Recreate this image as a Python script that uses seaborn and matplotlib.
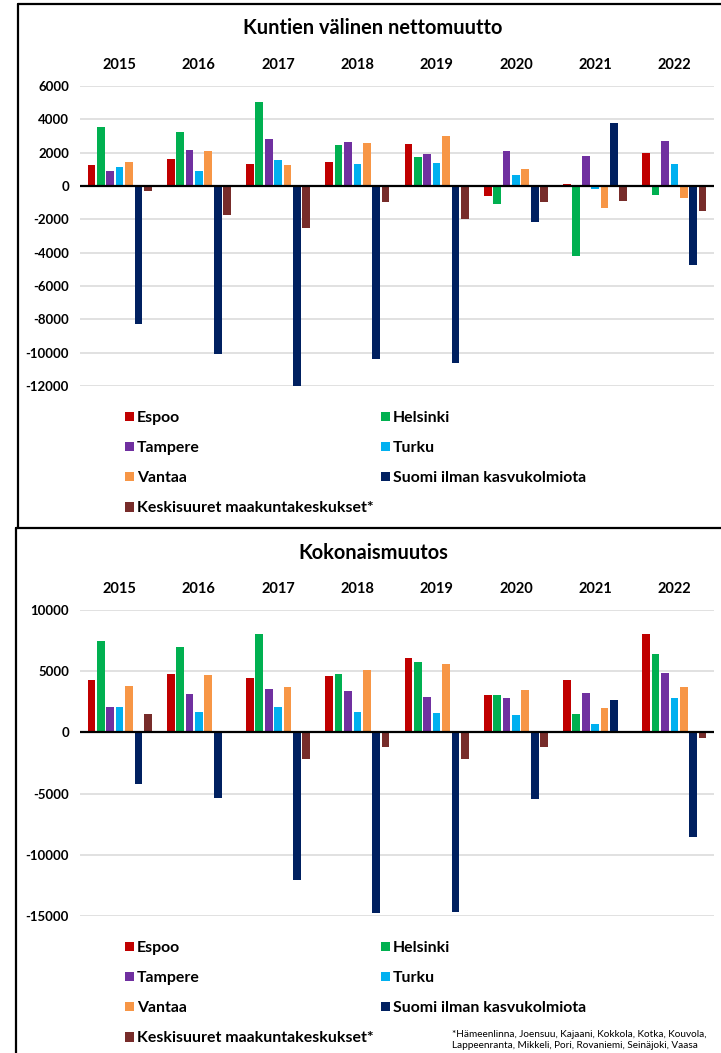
import matplotlib
matplotlib.use("Agg")
import matplotlib.pyplot as plt
from matplotlib.lines import Line2D
import pandas as pd
import seaborn as sns

# ---- data -------------------------------------------------------------
years = ["2015", "2016", "2017", "2018", "2019", "2020", "2021", "2022"]
series = ["Espoo", "Helsinki", "Tampere", "Turku", "Vantaa",
          "Suomi ilman kasvukolmiota", "Keskisuuret maakuntakeskukset*"]
colors = ["#C00000", "#00B050", "#7030A0", "#00B0F0", "#F79646",
          "#002060", "#772C2A"]

# Kuntien välinen nettomuutto
netto_espoo = [1240, 1640, 1320, 1420, 2520, -620, 100, 2000]
netto_helsinki = [3560, 3260, 5040, 2440, 1720, -1060, -4180, -560]
netto_tampere = [920, 2140, 2800, 2620, 1900, 2080, 1820, 2680]
netto_turku = [1120, 880, 1540, 1300, 1380, 660, -180, 1340]
netto_vantaa = [1420, 2080, 1280, 2580, 3020, 1020, -1320, -720]
netto_suomi = [-8280, -10080, -12040, -10380, -10600, -2140, 3800, -4760]
netto_keski = [-300, -1740, -2500, -940, -1960, -940, -880, -1480]

# Kokonaismuutos
koko_espoo = [4250, 4770, 4470, 4580, 6050, 3080, 4310, 8020]
koko_helsinki = [7450, 6950, 8070, 4770, 5780, 3080, 1500, 6440]
koko_tampere = [2100, 3140, 3570, 3410, 2890, 2840, 3190, 4830]
koko_turku = [2050, 1660, 2050, 1640, 1610, 1450, 710, 2780]
koko_vantaa = [3820, 4720, 3680, 5130, 5560, 3440, 1990, 3680]
koko_suomi = [-4200, -5370, -12080, -14750, -14700, -5430, 2670, -8540]
koko_keski = [1500, 0, -2150, -1230, -2210, -1170, 0, -490]

netto_ticks = [-12000, -10000, -8000, -6000, -4000, -2000, 0, 2000, 4000, 6000]
koko_ticks = [-15000, -10000, -5000, 0, 5000, 10000]

footnote = ("*Hämeenlinna, Joensuu, Kajaani, Kokkola, Kotka, Kouvola,\n"
            "Lappeenranta, Mikkeli, Pori, Rovaniemi, Seinäjoki, Vaasa")


def long_frame(columns):
    rows = []
    for name, vals in zip(series, columns):
        for yr, v in zip(years, vals):
            rows.append({"Vuosi": yr, "Muutos": v, "Sarja": name})
    return pd.DataFrame(rows)


netto_df = long_frame([netto_espoo, netto_helsinki, netto_tampere, netto_turku,
                       netto_vantaa, netto_suomi, netto_keski])
koko_df = long_frame([koko_espoo, koko_helsinki, koko_tampere, koko_turku,
                      koko_vantaa, koko_suomi, koko_keski])

# ---- figure -----------------------------------------------------------
sns.set_theme(style="white")
plt.rcParams["font.family"] = ["Lato", "DejaVu Sans"]

W, H = 721, 1053
fig = plt.figure(figsize=(W / 100, H / 100), dpi=100)


def fx(px):
    return px / W


def fy(py):
    return 1 - py / H


def panel(df, top_px, bottom_px, ticks, title, title_px, legend_px):
    ax = fig.add_axes([fx(80), fy(bottom_px), fx(714) - fx(80),
                       fy(top_px) - fy(bottom_px)])
    sns.barplot(data=df, x="Vuosi", y="Muutos", hue="Sarja",
                hue_order=series, palette=colors, width=0.83, gap=0.18,
                linewidth=0, saturation=1, ax=ax, order=years)
    leg = ax.get_legend()
    handles = list(leg.legend_handles)
    labels = [t.get_text() for t in leg.get_texts()]
    leg.remove()

    ax.set_ylim(ticks[0], ticks[-1])
    ax.set_yticks(ticks)
    ax.set_yticklabels([str(t) for t in ticks])
    ax.set_xlim(-0.5, len(years) - 0.5)
    ax.set_xlabel("")
    ax.set_ylabel("")
    for s in ax.spines.values():
        s.set_visible(False)
    ax.grid(axis="y", color="#d9d9d9", linewidth=1.1, zorder=0)
    ax.set_axisbelow(True)
    ax.axhline(0, color="black", linewidth=1.6, zorder=5)
    ax.xaxis.tick_top()
    ax.tick_params(axis="x", length=0, pad=10, labelsize=10.5)
    ax.tick_params(axis="y", length=0, pad=8, labelsize=9.5)
    for lab in ax.get_xticklabels() + ax.get_yticklabels():
        lab.set_fontweight("bold")
        lab.set_color("black")

    fig.text(fx(373), fy(title_px), title, ha="center", va="center",
             fontsize=14.4, fontweight="bold", color="black")

    # two legend columns
    cols = [[0, 2, 4, 6], [1, 3, 5]]
    for col, x0 in zip(cols, (125, 381)):
        lg = fig.legend([handles[i] for i in col], [labels[i] for i in col],
                        loc="upper left",
                        bbox_to_anchor=(fx(x0), fy(legend_px)),
                        frameon=False, borderpad=0, borderaxespad=0,
                        handlelength=0.55, handleheight=0.55,
                        handletextpad=0.22, labelspacing=1.02,
                        prop={"weight": "bold", "size": 11.4})
        for t in lg.get_texts():
            t.set_color("black")
    return ax


panel(netto_df, 86, 386, netto_ticks, "Kuntien välinen nettomuutto", 28, 411)
panel(koko_df, 610, 916, koko_ticks, "Kokonaismuutos", 553, 941)

fig.text(fx(452), fy(1040), footnote, ha="left", va="center",
         fontsize=7.2, color="black", linespacing=1.3)

# panel frames
frame = dict(color="black", linewidth=1.6, transform=fig.transFigure)
fig.add_artist(Line2D([fx(18), fx(18)], [fy(4), fy(528)], **frame))
fig.add_artist(Line2D([fx(18), 1], [fy(4), fy(4)], **frame))
fig.add_artist(Line2D([fx(16), 1], [fy(528), fy(528)], **frame))
fig.add_artist(Line2D([fx(16), fx(16)], [fy(528), 0], **frame))

fig.savefig("out.png", dpi=100)
